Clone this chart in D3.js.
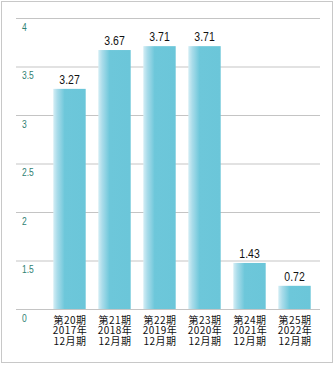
<!DOCTYPE html>
<html><head><meta charset="utf-8">
<script src="https://cdn.jsdelivr.net/npm/d3@7"></script>
<style>
html,body{margin:0;padding:0;background:#fff;}
svg{display:block;}
</style></head>
<body>
<script>
const periods = ["第20期","第21期","第22期","第23期","第24期","第25期"];
const years = ["2017年","2018年","2019年","2020年","2021年","2022年"];
const months = ["12月期","12月期","12月期","12月期","12月期","12月期"];
const values = [3.27, 3.67, 3.71, 3.71, 1.43, 0.72];
const valueLabels = ["3.27","3.67","3.71","3.71","1.43","0.72"];
const ticks = [0, 1.5, 2, 2.5, 3, 3.5, 4];
const tickLabels = ["0","1.5","2","2.5","3","3.5","4"];

const W = 336, H = 365;
const svg = d3.select("body").append("svg").attr("width", W).attr("height", H);

svg.append("rect").attr("x",1.5).attr("y",1.5).attr("width",331).attr("height",361)
  .attr("fill","#fff").attr("stroke","#c8c8c8").attr("stroke-width",1);

const defs = svg.append("defs");
const g = defs.append("linearGradient").attr("id","barGrad").attr("x1","0").attr("x2","1").attr("y1","0").attr("y2","0");
g.append("stop").attr("offset","0").attr("stop-color","#d4eef5");
g.append("stop").attr("offset","0.12").attr("stop-color","#aadcea");
g.append("stop").attr("offset","0.35").attr("stop-color","#6dc7da");
g.append("stop").attr("offset","1").attr("stop-color","#6bc6d9");

// broken (piecewise) axis: 0–1.5 compressed into one step
const y = d3.scaleLinear().domain([0, 1.5, 4]).range([309, 260.7, 18]);
const x = d3.scaleBand().domain(periods).range([47, 317]).paddingInner(0.28).paddingOuter(0.14);

const narrow = "'Liberation Sans','Arial',sans-serif";

const grid = svg.append("g");
ticks.forEach((t,i)=>{
  const light = (i % 2 === 1);
  grid.append("line").attr("x1",16).attr("x2",320)
    .attr("y1", Math.round(y(t)) + (light ? 0 : 0.5)).attr("y2", Math.round(y(t)) + (light ? 0 : 0.5))
    .attr("stroke", light ? "#e2e2e2" : "#c4c4c4").attr("stroke-width", light ? 2 : 1);
  grid.append("text").attr("transform", `translate(22,${y(t) + 12.5}) scale(0.85,1)`)
    .attr("font-family", narrow)
    .attr("font-size",10).attr("fill","#2f7f72").text(tickLabels[i]);
});

const bars = svg.append("g");
values.forEach((v,i)=>{
  const xp = x(periods[i]);
  const cx = xp + x.bandwidth()/2;
  bars.append("rect").attr("x", xp).attr("y", y(v)).attr("width", x.bandwidth()).attr("height", y(0) - y(v))
    .attr("fill","url(#barGrad)");
  bars.append("text").attr("transform", `translate(${cx},${y(v) - 5}) scale(0.84,1)`)
    .attr("text-anchor","middle")
    .attr("font-family", narrow)
    .attr("font-size",12.5).attr("fill","#111").text(valueLabels[i]);
  const t = bars.append("text")
    .attr("text-anchor","middle")
    .attr("font-family","'Noto Sans CJK JP',sans-serif")
    .attr("font-size",10).attr("letter-spacing",0.5).attr("fill","#111");
  [periods[i], years[i], months[i]].forEach((s,j)=>{
    t.append("tspan").attr("x", cx + 0.5).attr("y", 323.5 + j*10.8).text(s);
  });
});
</script>
</body></html>
